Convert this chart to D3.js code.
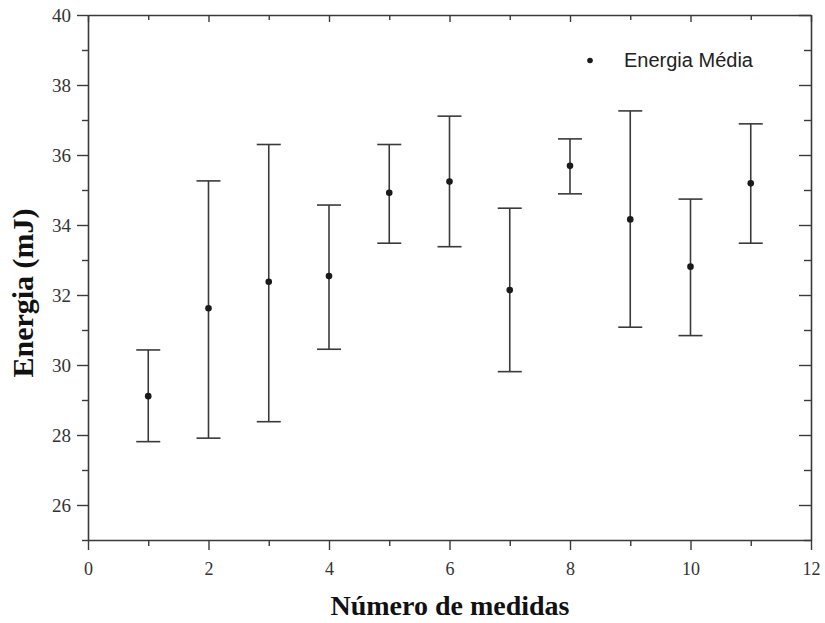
<!DOCTYPE html>
<html>
<head>
<meta charset="utf-8">
<script src="https://cdn.jsdelivr.net/npm/d3@7"></script>
<style>
  html, body { margin: 0; padding: 0; background: #fff; }
  svg { display: block; }
</style>
</head>
<body>
<svg id="chart" width="825" height="623"></svg>
<script>
// ---- data ----
const measures = [1, 2, 3, 4, 5, 6, 7, 8, 9, 10, 11];
const means    = [29.11, 31.62, 32.38, 32.54, 34.92, 35.24, 32.14, 35.69, 34.16, 32.81, 35.19];
const upper    = [30.43, 35.26, 36.30, 34.57, 36.30, 37.11, 34.48, 36.46, 37.26, 34.74, 36.89];
const lower    = [27.81, 27.91, 28.38, 30.45, 33.48, 33.38, 29.81, 34.89, 31.08, 30.84, 33.48];
const xMajorTicks = [0, 2, 4, 6, 8, 10, 12];
const xMinorTicks = [1, 3, 5, 7, 9, 11];
const yMajorTicks = [26, 28, 30, 32, 34, 36, 38, 40];
const yMinorTicks = [25, 27, 29, 31, 33, 35, 37, 39];
const xTitle = "Número de medidas";
const yTitle = "Energia (mJ)";
const legendLabel = "Energia Média";

(function () {
const svg = d3.select("#chart");
const pL = 88, pR = 811, pT = 15, pB = 540;
const x = d3.scaleLinear().domain([0, 12]).range([pL, pR]);
const y = d3.scaleLinear().domain([25, 40]).range([pB, pT]);

const axisColor = "#3a3a3a";
const serif = "'Liberation Serif', 'Times New Roman', serif";

function styleAxis(g) {
  g.select(".domain").attr("stroke", axisColor).attr("stroke-width", 1.6);
  g.selectAll(".tick line").attr("stroke", axisColor).attr("stroke-width", 1.4);
  g.selectAll(".tick text").attr("fill", "#333").attr("font-family", serif);
}
function minor(g) {
  g.select(".domain").remove();
  g.selectAll("line").attr("stroke", axisColor).attr("stroke-width", 1.4);
}

// bottom axis (outward ticks)
const gB = svg.append("g").attr("transform", `translate(0,${pB})`)
  .call(d3.axisBottom(x).tickValues(xMajorTicks).tickSize(10).tickSizeOuter(0).tickPadding(12).tickFormat(d3.format("d")));
styleAxis(gB);
gB.selectAll(".tick text").attr("font-size", 18);
svg.append("g").attr("transform", `translate(0,${pB})`)
  .call(d3.axisBottom(x).tickValues(xMinorTicks).tickSize(6).tickSizeOuter(0).tickFormat(""))
  .call(minor);

// top axis (inward ticks)
const gT = svg.append("g").attr("transform", `translate(0,${pT})`)
  .call(d3.axisBottom(x).tickValues(xMajorTicks).tickSize(7).tickSizeOuter(0).tickFormat(""));
styleAxis(gT);
svg.append("g").attr("transform", `translate(0,${pT})`)
  .call(d3.axisBottom(x).tickValues(xMinorTicks).tickSize(5).tickSizeOuter(0).tickFormat(""))
  .call(minor);

// left axis (outward ticks)
const gL = svg.append("g").attr("transform", `translate(${pL},0)`)
  .call(d3.axisLeft(y).tickValues(yMajorTicks).tickSize(11).tickSizeOuter(0).tickPadding(6).tickFormat(d3.format("d")));
styleAxis(gL);
gL.selectAll(".tick text").attr("font-size", 19);
svg.append("g").attr("transform", `translate(${pL},0)`)
  .call(d3.axisLeft(y).tickValues(yMinorTicks).tickSize(6).tickSizeOuter(0).tickFormat(""))
  .call(minor);

// right axis (inward ticks)
const gR = svg.append("g").attr("transform", `translate(${pR},0)`)
  .call(d3.axisRight(y).tickValues(yMajorTicks).tickSize(-12).tickSizeOuter(0).tickFormat(""));
styleAxis(gR);
svg.append("g").attr("transform", `translate(${pR},0)`)
  .call(d3.axisRight(y).tickValues(yMinorTicks).tickSize(-7).tickSizeOuter(0).tickFormat(""))
  .call(minor);

// error bars
const data = measures.map((m, i) => ({ m, mean: means[i], hi: upper[i], lo: lower[i] }));
const capW = 12;
const bars = svg.append("g").attr("stroke", "#3a3a3a").attr("stroke-width", 1.6);
bars.selectAll("line.v").data(data).join("line").attr("class", "v")
  .attr("x1", d => x(d.m)).attr("x2", d => x(d.m))
  .attr("y1", d => y(d.hi)).attr("y2", d => y(d.lo));
bars.selectAll("line.t").data(data).join("line").attr("class", "t")
  .attr("x1", d => x(d.m) - capW).attr("x2", d => x(d.m) + capW)
  .attr("y1", d => y(d.hi)).attr("y2", d => y(d.hi));
bars.selectAll("line.b").data(data).join("line").attr("class", "b")
  .attr("x1", d => x(d.m) - capW).attr("x2", d => x(d.m) + capW)
  .attr("y1", d => y(d.lo)).attr("y2", d => y(d.lo));

// points
svg.append("g").selectAll("circle").data(data).join("circle")
  .attr("cx", d => x(d.m)).attr("cy", d => y(d.mean)).attr("r", 3.3)
  .attr("fill", "#1a1a1a");

// legend
svg.append("circle").attr("cx", 590).attr("cy", 60.5).attr("r", 2.8).attr("fill", "#1a1a1a");
svg.append("text").attr("x", 624).attr("y", 67)
  .attr("font-family", "'Liberation Sans', Arial, sans-serif").attr("font-size", 20)
  .attr("fill", "#222").text(legendLabel);

// axis titles
svg.append("text").attr("x", 450).attr("y", 615)
  .attr("text-anchor", "middle").attr("font-family", serif).attr("font-weight", "bold")
  .attr("font-size", 28).attr("fill", "#111").text(xTitle);
svg.append("text").attr("transform", `translate(33,293) rotate(-90)`)
  .attr("text-anchor", "middle").attr("font-family", serif).attr("font-weight", "bold")
  .attr("font-size", 30).attr("fill", "#111").text(yTitle);
})();
</script>
</body>
</html>
